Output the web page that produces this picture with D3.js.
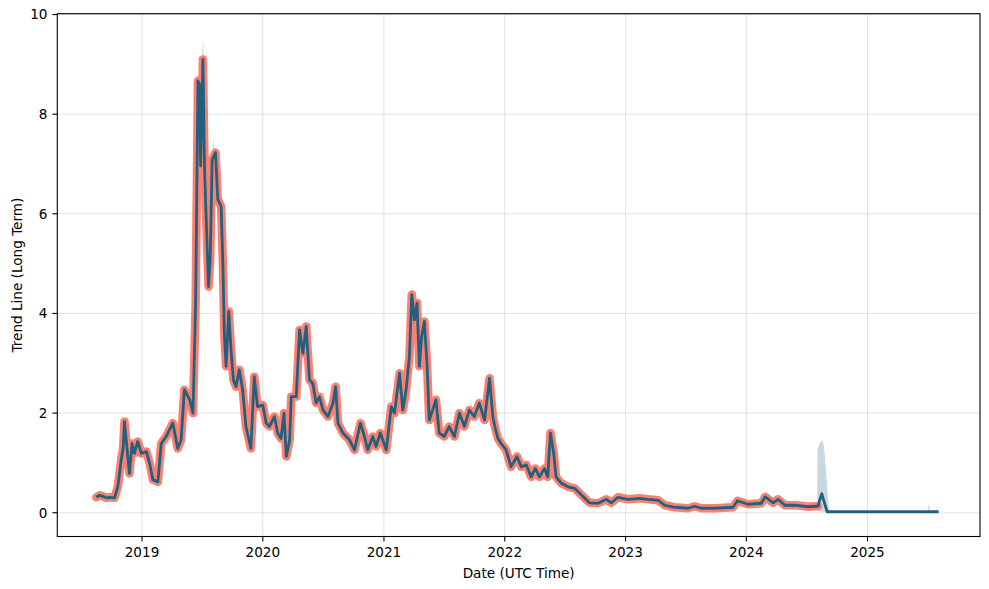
<!DOCTYPE html>
<html><head><meta charset="utf-8">
<script src="https://cdn.jsdelivr.net/npm/d3@7"></script>
<style>
body{margin:0;background:#fff}
svg{display:block}
text{font-family:"DejaVu Sans",sans-serif;fill:#000}
</style></head>
<body><svg id="chart" width="989" height="589"></svg>
<script>
// ---- data ----
const trendSeries = [
["2018-08-16",0.31],["2018-08-26",0.35],["2018-09-05",0.33],["2018-09-15",0.30],["2018-09-25",0.31],
["2018-10-10",0.30],["2018-10-20",0.53],["2018-10-30",1.06],["2018-11-05",1.30],["2018-11-09",1.83],
["2018-11-16",1.33],["2018-11-24",0.79],["2018-12-02",1.39],["2018-12-09",1.19],["2018-12-19",1.43],
["2018-12-30",1.19],["2019-01-14",1.23],["2019-01-24",0.99],["2019-02-03",0.66],["2019-02-18",0.62],
["2019-02-28",1.39],["2019-03-15",1.53],["2019-04-04",1.80],["2019-04-19",1.29],["2019-04-29",1.46],
["2019-05-09",2.47],["2019-05-25",2.27],["2019-06-04",2.00],["2019-06-12",4.21],["2019-06-19",8.67],
["2019-06-24",8.60],["2019-06-27",6.96],["2019-07-04",9.10],["2019-07-09",6.89],["2019-07-16",5.48],
["2019-07-21",4.54],["2019-07-26",5.08],["2019-08-01",7.09],["2019-08-11",7.23],["2019-08-18",6.29],
["2019-08-28",6.15],["2019-09-02",5.08],["2019-09-07",3.54],["2019-09-12",2.94],["2019-09-20",4.04],
["2019-09-27",3.27],["2019-10-04",2.67],["2019-10-12",2.53],["2019-10-22",2.87],["2019-11-01",2.47],
["2019-11-11",1.73],["2019-11-26",1.29],["2019-12-06",2.73],["2019-12-16",2.13],["2020-01-01",2.16],
["2020-01-11",1.80],["2020-01-21",1.73],["2020-02-05",1.93],["2020-02-15",1.60],["2020-02-25",1.49],
["2020-03-05",2.00],["2020-03-12",1.13],["2020-03-22",1.46],["2020-03-27",2.33],["2020-04-11",2.33],
["2020-04-21",3.67],["2020-05-01",3.20],["2020-05-11",3.74],["2020-05-21",2.67],["2020-05-31",2.60],
["2020-06-10",2.20],["2020-06-20",2.33],["2020-07-01",2.06],["2020-07-16",1.93],["2020-07-31",2.20],
["2020-08-08",2.53],["2020-08-15",1.80],["2020-08-30",1.60],["2020-09-19",1.46],["2020-10-04",1.26],
["2020-10-22",1.80],["2020-11-03",1.53],["2020-11-13",1.26],["2020-11-28",1.53],["2020-12-08",1.33],
["2020-12-21",1.60],["2021-01-08",1.26],["2021-01-23",2.13],["2021-02-02",2.00],["2021-02-17",2.80],
["2021-02-27",2.06],["2021-03-09",2.47],["2021-03-19",3.14],["2021-03-26",4.38],["2021-04-03",3.87],
["2021-04-11",4.21],["2021-04-18",2.94],["2021-04-25",3.54],["2021-05-03",3.84],["2021-05-11",3.00],
["2021-05-18",1.86],["2021-05-28",2.06],["2021-06-07",2.27],["2021-06-17",1.60],["2021-07-02",1.53],
["2021-07-17",1.73],["2021-08-02",1.53],["2021-08-17",2.00],["2021-09-01",1.73],["2021-09-16",2.06],
["2021-10-01",1.93],["2021-10-16",2.20],["2021-11-01",1.86],["2021-11-16",2.70],["2021-11-26",1.93],
["2021-12-03",1.70],["2021-12-11",1.50],["2021-12-21",1.39],["2022-01-05",1.26],["2022-01-20",0.92],
["2022-02-07",1.13],["2022-02-20",0.92],["2022-03-07",0.96],["2022-03-22",0.72],["2022-04-03",0.89],
["2022-04-16",0.72],["2022-05-01",0.89],["2022-05-11",0.72],["2022-05-19",1.60],["2022-05-29",1.19],
["2022-06-05",0.72],["2022-06-21",0.59],["2022-07-11",0.52],["2022-07-31",0.49],["2022-08-20",0.36],
["2022-09-14",0.20],["2022-10-10",0.19],["2022-11-04",0.27],["2022-11-19",0.20],["2022-12-09",0.31],
["2023-01-09",0.27],["2023-02-13",0.29],["2023-03-10",0.27],["2023-04-10",0.25],["2023-04-30",0.15],
["2023-05-30",0.11],["2023-07-09",0.09],["2023-07-29",0.13],["2023-08-18",0.09],["2023-09-27",0.09],
["2023-11-22",0.11],["2023-12-05",0.24],["2024-01-06",0.17],["2024-02-15",0.19],["2024-02-27",0.32],
["2024-03-22",0.20],["2024-04-06",0.27],["2024-04-26",0.15],["2024-06-01",0.15],["2024-07-06",0.12],
["2024-07-31",0.13],["2024-08-05",0.13]
];
// blue line continues after the salmon trend stops
const tailSeries = [
["2024-08-08",0.22],["2024-08-16",0.38],["2024-09-01",0.02],["2025-08-04",0.02]
];
// shaded band: [date, low, high] where it shows beyond the lines
const bandSpikes = [
[["2019-07-01",9.1,9.1],["2019-07-04",8.95,9.54],["2019-07-07",9.0,9.0]],
[["2019-07-19",4.6,4.6],["2019-07-22",4.31,4.6],["2019-07-25",4.6,4.6]],
[["2019-08-02",7.1,7.1],["2019-08-05",7.0,7.56],["2019-08-08",7.1,7.1]],
[["2019-09-18",4.0,4.0],["2019-09-21",3.9,4.21],["2019-09-24",3.9,3.9]],
[["2020-05-02",3.5,3.5],["2020-05-05",3.4,3.88],["2020-05-08",3.4,3.4]],
[["2020-05-08",3.6,3.6],["2020-05-11",3.6,3.90],["2020-05-14",3.6,3.6]],
[["2021-03-25",4.3,4.3],["2021-03-28",4.2,4.58],["2021-03-31",4.2,4.2]],
[["2024-08-02",0.1,0.1],["2024-08-03",0.05,1.28],["2024-08-10",0.03,1.40],["2024-08-18",0.02,1.46],
 ["2024-08-23",0.02,1.31],["2024-08-29",0.02,0.84],["2024-09-05",0.02,0.17],["2024-09-08",0.02,0.02]],
[["2025-07-01",0.02,0.02],["2025-07-05",0.02,0.17],["2025-07-09",0.02,0.02]]
];
const xLimits = ["2018-04-20","2025-12-07"];
const yLimits = [-0.477, 10.017];
const yTicks = [0,2,4,6,8,10];
const xTickYears = [2019,2020,2021,2022,2023,2024,2025];
const xLabel = "Date (UTC Time)";
const yLabel = "Trend Line (Long Term)";

// ---- layout ----
const plot = {left:57.3, right:980, top:13.7, bottom:536.5};
const parse = d3.utcParse("%Y-%m-%d");
const main = trendSeries.map(d=>({date:parse(d[0]), v:d[1]}));
const blue = main.concat(tailSeries.map(d=>({date:parse(d[0]), v:d[1]})));
const bands = bandSpikes.map(g=>g.map(d=>({date:parse(d[0]), lo:d[1], hi:d[2]})));

const x = d3.scaleUtc().domain(xLimits.map(parse)).range([plot.left, plot.right]);
const y = d3.scaleLinear().domain(yLimits).range([plot.bottom, plot.top]);

const svg = d3.select("#chart");
const fs = 13.6;

// grid
const g = svg.append("g");
g.selectAll(".gx").data(xTickYears).join("line")
  .attr("x1",d=>x(Date.UTC(d,0,1))).attr("x2",d=>x(Date.UTC(d,0,1)))
  .attr("y1",plot.top).attr("y2",plot.bottom)
  .attr("stroke","#b0b0b0").attr("stroke-opacity",0.35).attr("stroke-width",1);
g.selectAll(".gy").data(yTicks).join("line")
  .attr("x1",plot.left).attr("x2",plot.right)
  .attr("y1",d=>y(d)).attr("y2",d=>y(d))
  .attr("stroke","#b0b0b0").attr("stroke-opacity",0.35).attr("stroke-width",1);

// clip
svg.append("clipPath").attr("id","clip").append("rect")
  .attr("x",plot.left).attr("y",plot.top)
  .attr("width",plot.right-plot.left).attr("height",plot.bottom-plot.top);
const data = svg.append("g").attr("clip-path","url(#clip)");

// band
const area = d3.area().x(d=>x(d.date)).y0(d=>y(d.lo)).y1(d=>y(d.hi)).curve(d3.curveLinear);
data.selectAll(".band").data(bands).join("path")
  .attr("d",area).attr("fill","#2b5f87").attr("fill-opacity",0.25).attr("stroke","none");

// salmon trend line
const line = d3.line().x(d=>x(d.date)).y(d=>y(d.v));
data.append("path").datum(main).attr("d",line)
  .attr("fill","none").attr("stroke","#fa8072").attr("stroke-width",8.5)
  .attr("stroke-linejoin","round").attr("stroke-linecap","round");
// blue line
data.append("path").datum(blue).attr("d",line)
  .attr("fill","none").attr("stroke","#22607f").attr("stroke-width",2.8)
  .attr("stroke-linejoin","round").attr("stroke-linecap","butt");

// spines
svg.append("rect").attr("x",plot.left).attr("y",plot.top)
  .attr("width",plot.right-plot.left).attr("height",plot.bottom-plot.top)
  .attr("fill","none").attr("stroke","#000").attr("stroke-width",1.1);

// x ticks
const xt = svg.append("g");
xTickYears.forEach(yr=>{
  const px = x(Date.UTC(yr,0,1));
  xt.append("line").attr("x1",px).attr("x2",px).attr("y1",plot.bottom).attr("y2",plot.bottom+4.9)
    .attr("stroke","#000").attr("stroke-width",1.1);
  xt.append("text").attr("x",px).attr("y",plot.bottom+9.8).attr("dy","0.76em")
    .attr("text-anchor","middle").attr("font-size",fs).text(d3.utcFormat("%Y")(new Date(Date.UTC(yr,0,1))));
});
// y ticks
const yt = svg.append("g");
yTicks.forEach(v=>{
  const py = y(v);
  yt.append("line").attr("x1",plot.left-4.9).attr("x2",plot.left).attr("y1",py).attr("y2",py)
    .attr("stroke","#000").attr("stroke-width",1.1);
  yt.append("text").attr("x",plot.left-9.8).attr("y",py).attr("dy","0.36em")
    .attr("text-anchor","end").attr("font-size",fs).text(v);
});
// labels
svg.append("text").attr("x",(plot.left+plot.right)/2).attr("y",578)
  .attr("text-anchor","middle").attr("font-size",fs).text(xLabel);
svg.append("text").attr("transform",`translate(21.5,${(plot.top+plot.bottom)/2}) rotate(-90)`)
  .attr("text-anchor","middle").attr("font-size",fs).text(yLabel);
</script></body></html>
